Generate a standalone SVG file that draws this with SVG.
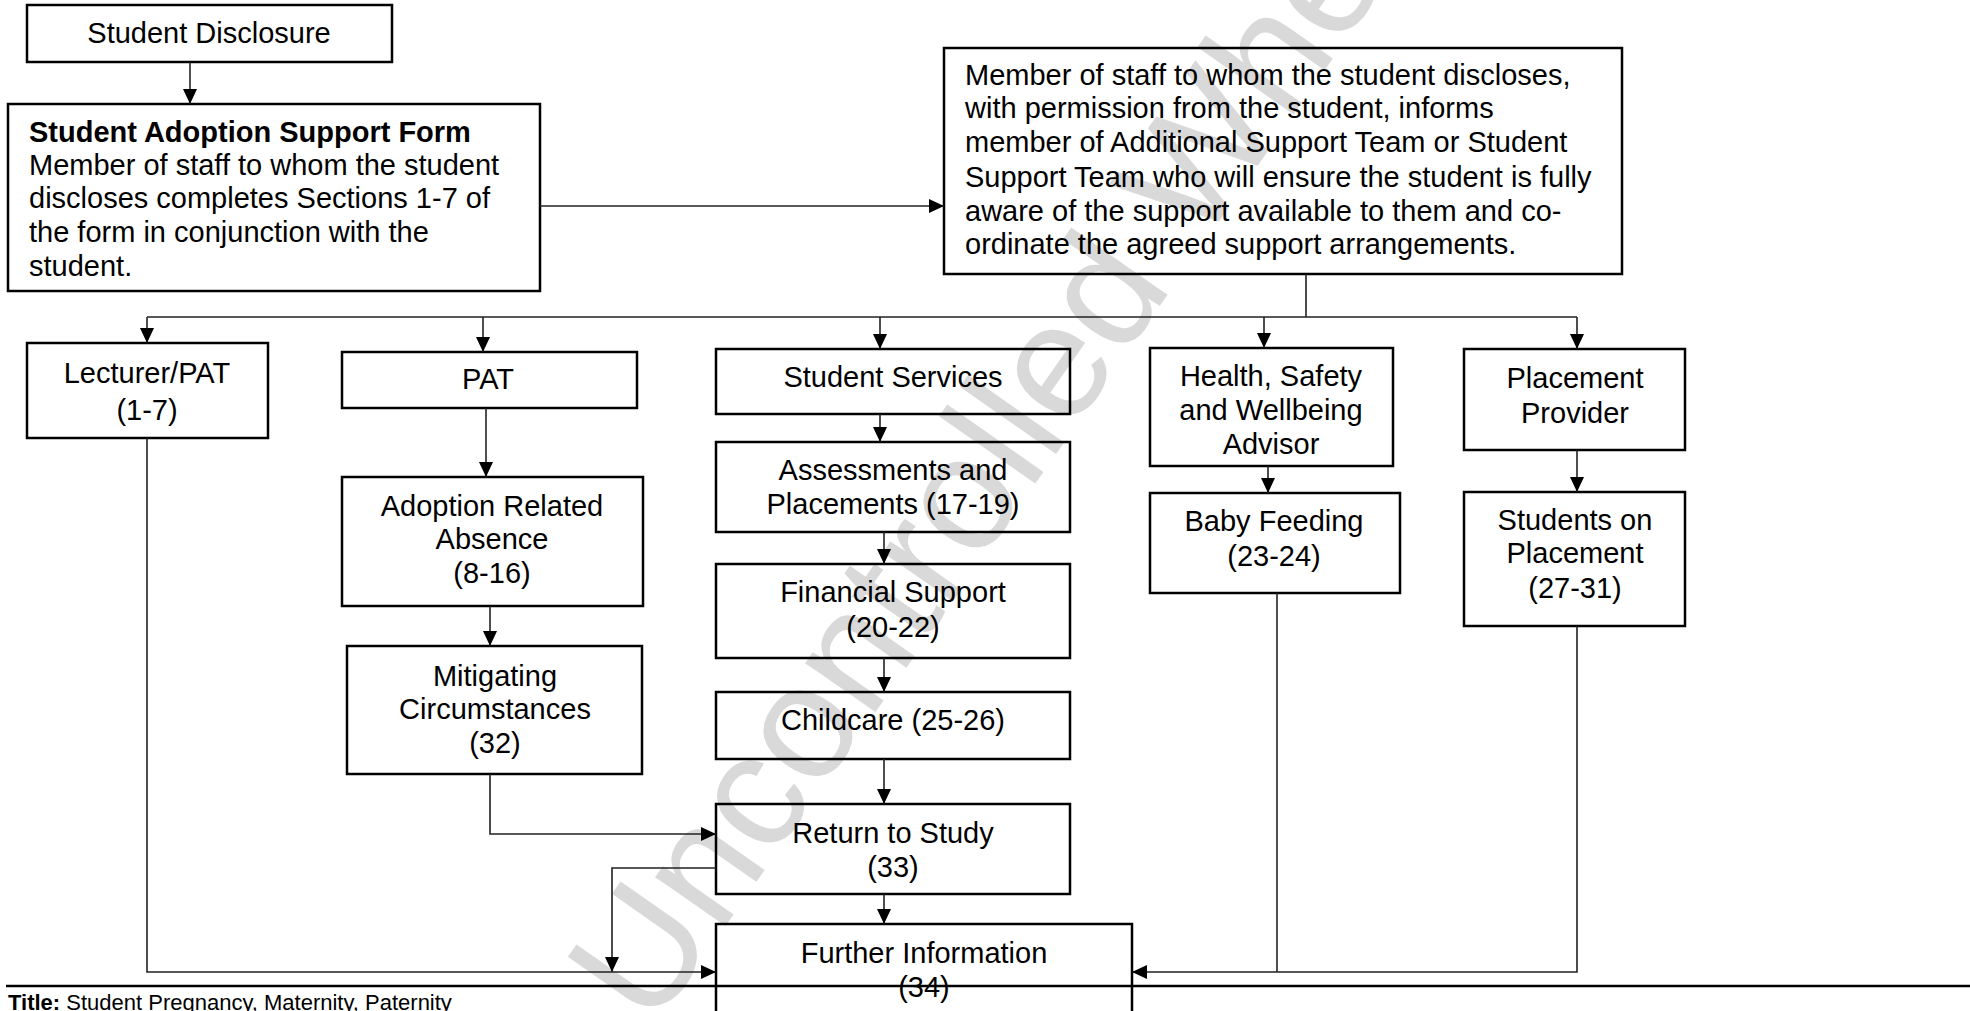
<svg xmlns="http://www.w3.org/2000/svg" width="1970" height="1011" viewBox="0 0 1970 1011">
<defs>
<marker id="ah" markerUnits="userSpaceOnUse" markerWidth="16" markerHeight="14" refX="15" refY="7" orient="auto">
<path d="M0,0 L15,7 L0,14 z" fill="#000"/>
</marker>
<style>
.box{fill:none;stroke:#000;stroke-width:2.5}
.t{font-family:"Liberation Sans",Arial,sans-serif;font-size:29px;fill:#000}
.c{text-anchor:middle}
.b{font-weight:bold}
.con path{fill:none;stroke:#222;stroke-width:1.6}
.arr{marker-end:url(#ah)}
.wm{font-family:"Liberation Sans",Arial,sans-serif;font-size:162px;fill:#d9d9d9}
</style>
</defs>
<rect width="1970" height="1011" fill="#fff"/>
<text class="wm" transform="translate(652,1031) rotate(-55)">Uncontrolled When Printed</text>

<g id="n-sd"><rect class="box" x="27" y="5" width="365" height="57"/><text class="t c" x="209" y="43">Student Disclosure</text></g>
<g id="n-form"><rect class="box" x="8" y="104" width="532" height="187"/>
<text class="t" x="29" y="142"><tspan class="b">Student Adoption Support Form</tspan></text>
<text class="t" x="29" y="175">Member of staff to whom the student</text>
<text class="t" x="29" y="208">discloses completes Sections 1-7 of</text>
<text class="t" x="29" y="242">the form in conjunction with the</text>
<text class="t" x="29" y="276">student.</text></g>
<g id="n-inform"><rect class="box" x="944" y="48" width="678" height="226"/>
<text class="t" x="965" y="85">Member of staff to whom the student discloses,</text>
<text class="t" x="965" y="118">with permission from the student, informs</text>
<text class="t" x="965" y="152">member of Additional Support Team or Student</text>
<text class="t" x="965" y="187">Support Team who will ensure the student is fully</text>
<text class="t" x="965" y="221">aware of the support available to them and co-</text>
<text class="t" x="965" y="254">ordinate the agreed support arrangements.</text></g>
<g id="n-lect"><rect class="box" x="27" y="343" width="241" height="95"/><text class="t c" x="147" y="383">Lecturer/PAT</text><text class="t c" x="147" y="420">(1-7)</text></g>
<g id="n-pat"><rect class="box" x="342" y="352" width="295" height="56"/><text class="t c" x="488" y="389">PAT</text></g>
<g id="n-ara"><rect class="box" x="342" y="477" width="301" height="129"/><text class="t c" x="492" y="516">Adoption Related</text><text class="t c" x="492" y="549">Absence</text><text class="t c" x="492" y="583">(8-16)</text></g>
<g id="n-mit"><rect class="box" x="347" y="646" width="295" height="128"/><text class="t c" x="495" y="686">Mitigating</text><text class="t c" x="495" y="719">Circumstances</text><text class="t c" x="495" y="753">(32)</text></g>
<g id="n-ss"><rect class="box" x="716" y="349" width="354" height="65"/><text class="t c" x="893" y="387">Student Services</text></g>
<g id="n-ap"><rect class="box" x="716" y="442" width="354" height="90"/><text class="t c" x="893" y="480">Assessments and</text><text class="t c" x="893" y="514">Placements (17-19)</text></g>
<g id="n-fs"><rect class="box" x="716" y="564" width="354" height="94"/><text class="t c" x="893" y="602">Financial Support</text><text class="t c" x="893" y="637">(20-22)</text></g>
<g id="n-cc"><rect class="box" x="716" y="692" width="354" height="67"/><text class="t c" x="893" y="730">Childcare (25-26)</text></g>
<g id="n-rts"><rect class="box" x="716" y="804" width="354" height="90"/><text class="t c" x="893" y="843">Return to Study</text><text class="t c" x="893" y="877">(33)</text></g>
<g id="n-fi"><rect class="box" x="716" y="924" width="416" height="120"/><text class="t c" x="924" y="963">Further Information</text><text class="t c" x="924" y="997">(34)</text></g>
<g id="n-hsw"><rect class="box" x="1150" y="348" width="243" height="118"/><text class="t c" x="1271" y="386">Health, Safety</text><text class="t c" x="1271" y="420">and Wellbeing</text><text class="t c" x="1271" y="454">Advisor</text></g>
<g id="n-bf"><rect class="box" x="1150" y="493" width="250" height="100"/><text class="t c" x="1274" y="531">Baby Feeding</text><text class="t c" x="1274" y="566">(23-24)</text></g>
<g id="n-pp"><rect class="box" x="1464" y="349" width="221" height="101"/><text class="t c" x="1575" y="388">Placement</text><text class="t c" x="1575" y="423">Provider</text></g>
<g id="n-sop"><rect class="box" x="1464" y="492" width="221" height="134"/><text class="t c" x="1575" y="530">Students on</text><text class="t c" x="1575" y="563">Placement</text><text class="t c" x="1575" y="598">(27-31)</text></g>

<g id="connectors" class="con">
<path class="arr" d="M190,62 V104"/>
<path class="arr" d="M540,206 H944"/>
<path d="M1306,274 V317 M147,317 H1577"/>
<path class="arr" d="M147,317 V343"/>
<path class="arr" d="M483,317 V352"/>
<path class="arr" d="M880,317 V349"/>
<path class="arr" d="M1264,317 V348"/>
<path class="arr" d="M1577,317 V349"/>
<path class="arr" d="M486,408 V477"/>
<path class="arr" d="M490,606 V646"/>
<path class="arr" d="M880,414 V442"/>
<path class="arr" d="M884,532 V564"/>
<path class="arr" d="M884,658 V692"/>
<path class="arr" d="M884,759 V804"/>
<path class="arr" d="M884,894 V924"/>
<path class="arr" d="M490,774 V834 H716"/>
<path class="arr" d="M716,868 H612 V972"/>
<path class="arr" d="M147,438 V972 H716"/>
<path class="arr" d="M1268,466 V493"/>
<path d="M1277,593 V972"/>
<path class="arr" d="M1577,450 V492"/>
<path class="arr" d="M1577,626 V972 H1132"/>
</g>
<path id="footer-rule" d="M6,986 H1970" stroke="#000" stroke-width="2.5"/>
<text id="footer" x="8" y="1010" style="font-family:'Liberation Sans',Arial,sans-serif;font-size:22px"><tspan font-weight="bold">Title:</tspan>  Student Pregnancy, Maternity, Paternity</text>
</svg>
